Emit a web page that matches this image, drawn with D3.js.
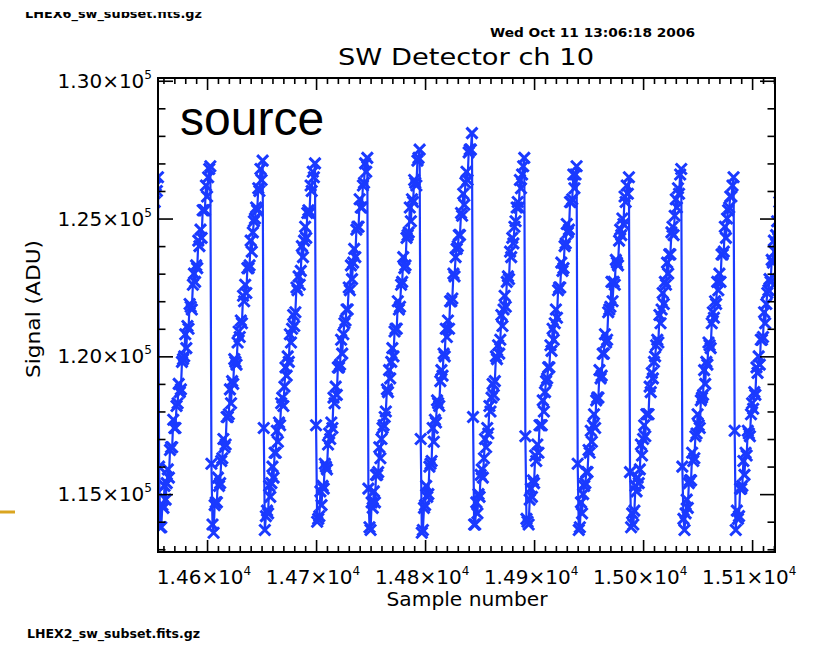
<!DOCTYPE html>
<html>
<head>
<meta charset="utf-8">
<script src="https://cdn.jsdelivr.net/npm/d3@7"></script>
<style>
body { margin: 0; background: #fff; }
svg { display: block; }
.lbl { font-family: "DejaVu Sans", sans-serif; fill: #000; }
.tag { font-family: "DejaVu Sans", sans-serif; font-weight: bold; fill: #000; }
</style>
</head>
<body>
<svg id="chart" width="813" height="645"></svg>
<script>
// signal is in units of 1000 ADU, one sample per entry
// first sample number of each ramp (reset every 48 samples)
var rampStart = [14550, 14556, 14604, 14652, 14700, 14748, 14796, 14844, 14892, 14940, 14988, 15036, 15084];

var ramp00 = [125.3, 125.9, 125.6, 126.2, 126.0, 126.5];
var ramp01 = [116.0, 113.8, 113.8, 114.6, 114.5, 115.3, 114.8, 115.4, 115.9, 115.6, 116.6, 116.7, 116.7, 117.7, 117.4, 117.4, 118.2, 118.3, 119.0, 118.7, 118.8, 119.8, 119.9, 120.0, 120.8, 120.3, 121.1, 121.0, 121.9, 121.8, 121.7, 122.6, 123.0, 122.7, 123.3, 123.2, 124.2, 124.0, 124.6, 124.3, 125.3, 125.3, 125.3, 126.2, 125.8, 126.5, 126.8, 126.9];
var ramp02 = [116.1, 113.9, 113.6, 114.6, 114.7, 114.7, 115.6, 115.3, 115.4, 116.2, 116.3, 117.0, 116.7, 116.8, 117.8, 117.8, 117.9, 118.8, 118.3, 119.1, 119.0, 119.9, 119.8, 119.7, 120.5, 120.9, 120.7, 121.3, 121.2, 122.2, 122.0, 122.6, 122.3, 123.2, 123.2, 123.3, 124.2, 123.8, 124.5, 124.9, 125.0, 125.4, 125.3, 126.1, 126.0, 126.8, 126.4, 127.1];
var ramp03 = [117.4, 113.7, 114.2, 114.4, 114.3, 115.3, 114.9, 115.4, 116.0, 115.6, 116.5, 116.5, 117.3, 116.9, 117.6, 117.5, 118.3, 118.5, 118.2, 118.9, 119.6, 119.3, 120.0, 119.8, 120.8, 120.5, 121.0, 121.5, 121.1, 121.6, 122.5, 122.4, 122.9, 122.6, 123.1, 124.0, 123.6, 124.2, 124.7, 124.3, 125.2, 125.3, 125.2, 126.2, 126.0, 126.7, 126.5, 127.0];
var ramp04 = [117.5, 114.0, 114.1, 114.2, 115.1, 114.6, 115.3, 115.2, 116.1, 116.0, 115.9, 116.8, 117.2, 117.0, 117.6, 117.4, 118.5, 118.3, 118.9, 118.6, 119.6, 119.6, 119.7, 120.6, 120.1, 120.8, 121.2, 121.3, 121.7, 121.7, 122.5, 122.4, 123.3, 122.8, 123.4, 123.9, 123.6, 124.6, 124.7, 124.7, 125.7, 125.4, 125.4, 126.2, 126.3, 127.0, 126.7, 127.2];
var ramp05 = [115.2, 113.8, 113.7, 114.7, 114.5, 115.1, 114.7, 115.7, 115.7, 115.8, 116.7, 116.3, 117.0, 117.4, 117.5, 117.8, 118.0, 118.8, 118.7, 119.5, 119.2, 119.8, 120.3, 120.0, 120.9, 121.0, 121.0, 122.0, 121.7, 121.8, 122.6, 122.7, 123.6, 123.2, 123.3, 124.3, 124.4, 124.5, 125.4, 124.9, 125.7, 125.6, 126.4, 126.3, 126.2, 127.1, 127.2, 127.5];
var ramp06 = [117.0, 113.6, 113.7, 114.5, 114.6, 115.3, 114.9, 115.0, 116.0, 116.1, 116.2, 117.4, 116.9, 117.7, 117.6, 118.4, 118.3, 118.2, 119.1, 119.5, 119.3, 120.1, 120.0, 121.0, 120.7, 121.3, 121.0, 122.0, 122.0, 122.1, 123.0, 122.9, 123.6, 123.9, 124.0, 124.4, 124.4, 125.2, 125.1, 125.9, 125.5, 126.3, 126.7, 126.4, 127.4, 127.5, 127.5, 128.1];
var ramp07 = [117.8, 113.9, 113.9, 114.7, 114.3, 115.0, 114.9, 115.7, 115.9, 115.6, 116.3, 117.0, 116.7, 117.4, 117.2, 118.2, 118.0, 118.5, 119.0, 118.6, 119.1, 120.0, 119.9, 120.4, 120.1, 120.6, 121.5, 121.1, 121.7, 122.2, 121.8, 122.7, 122.9, 122.8, 123.8, 123.6, 124.3, 124.1, 124.7, 124.9, 125.4, 125.6, 125.4, 126.4, 126.1, 126.6, 126.9, 127.2];
var ramp08 = [117.1, 114.1, 114.0, 113.9, 114.8, 115.2, 114.9, 115.5, 115.4, 116.4, 116.2, 116.8, 116.5, 117.5, 117.5, 117.5, 118.4, 118.0, 118.7, 119.1, 119.2, 119.6, 119.6, 120.4, 120.2, 121.0, 120.6, 121.2, 121.7, 121.4, 122.4, 122.5, 122.5, 123.4, 123.1, 123.2, 124.0, 124.1, 124.8, 124.5, 124.6, 125.6, 125.6, 125.7, 126.6, 126.1, 126.6, 126.9];
var ramp09 = [116.1, 113.7, 113.8, 114.7, 114.3, 115.0, 115.3, 115.4, 115.8, 115.8, 116.6, 116.5, 117.3, 116.9, 117.5, 117.9, 117.4, 118.4, 118.5, 118.5, 119.5, 119.2, 119.3, 120.1, 120.1, 120.8, 120.5, 120.6, 121.6, 121.7, 121.8, 122.7, 122.0, 122.7, 122.6, 123.5, 123.4, 123.3, 124.2, 124.6, 124.4, 125.0, 124.8, 125.8, 125.6, 126.2, 125.9, 126.5];
var ramp10 = [115.8, 113.8, 114.3, 113.9, 114.4, 115.3, 115.1, 115.6, 115.4, 115.9, 116.8, 116.4, 117.0, 117.5, 117.1, 117.9, 117.9, 117.9, 118.9, 118.7, 119.4, 119.2, 119.8, 120.0, 120.4, 120.6, 120.5, 121.5, 121.2, 121.7, 122.3, 121.9, 122.7, 122.6, 123.4, 123.0, 123.7, 123.7, 124.5, 124.7, 124.4, 125.1, 125.7, 125.4, 126.1, 125.9, 126.6, 126.8];
var ramp11 = [116.0, 114.1, 113.7, 114.3, 114.8, 114.5, 115.4, 115.5, 115.5, 116.5, 116.2, 116.3, 117.1, 117.2, 117.9, 117.5, 117.4, 118.4, 118.5, 118.6, 119.5, 119.0, 119.8, 119.7, 120.5, 120.4, 120.3, 121.2, 121.6, 121.4, 122.0, 121.9, 122.7, 122.4, 123.0, 122.7, 123.7, 123.7, 123.8, 124.7, 124.3, 125.0, 125.3, 125.4, 125.8, 125.8, 126.2, 126.5];
var ramp12 = [117.3, 113.7, 114.4, 114.1, 114.2, 115.2, 115.2, 115.3, 116.2, 115.7, 116.5, 116.4, 117.3, 117.2, 117.1, 117.9, 118.3, 118.1, 118.7, 118.6, 119.6, 119.4, 120.0, 119.7, 120.6, 120.6, 120.7, 121.6, 121.2, 121.9, 122.3, 122.4, 122.8, 122.7, 123.5, 123.4, 124.2, 123.8, 124.4, 124.9, 124.6, 125.6];

var ramps = [ramp00, ramp01, ramp02, ramp03, ramp04, ramp05, ramp06, ramp07, ramp08, ramp09, ramp10, ramp11, ramp12];

var xMajor = [14600, 14700, 14800, 14900, 15000, 15100];
var xLabels = ["1.46×10", "1.47×10", "1.48×10", "1.49×10", "1.50×10", "1.51×10"];
var xExp = "4";
var yMajor = [115, 120, 125, 130];
var yLabels = ["1.15×10", "1.20×10", "1.25×10", "1.30×10"];
var yExp = "5";

var svg = d3.select("#chart");
var L = 158, R = 775, T = 78, B = 552;
var blue = "#1a3aff";

var x = d3.scaleLinear().domain([14555, 15121]).range([L, R]);
var y = d3.scaleLinear().domain([112.9, 130.1]).range([B, T]);

var xMinor = d3.range(14560, 15121, 10).filter(function (d) { return d % 100 != 0 });
var yMinor = d3.range(113, 131, 1).filter(function (d) { return d % 5 != 0 });

var points = [];
ramps.forEach(function (r, k) {
  r.forEach(function (v, i) { points.push({ s: rampStart[k] + i, v: v }); });
});

svg.append("clipPath").attr("id", "plotclip")
  .append("rect").attr("x", L).attr("y", T).attr("width", R - L).attr("height", B - T);
svg.append("clipPath").attr("id", "topclip")
  .append("rect").attr("x", 0).attr("y", 12).attr("width", 813).attr("height", 20);

var plot = svg.append("g").attr("clip-path", "url(#plotclip)");

plot.append("path")
  .datum(points)
  .attr("fill", "none")
  .attr("stroke", blue)
  .attr("stroke-width", 2.2)
  .attr("d", d3.line().x(function (d) { return x(d.s) }).y(function (d) { return y(d.v) }));

plot.selectAll("path.mark")
  .data(points)
  .enter()
  .append("path")
  .attr("class", "mark")
  .attr("transform", function (d) { return "translate(" + x(d.s) + "," + y(d.v) + ")" })
  .attr("d", "M-5.5,-5.5L5.5,5.5M-5.5,5.5L5.5,-5.5")
  .attr("stroke", blue)
  .attr("stroke-width", 3)
  .attr("fill", "none");

// axes on all four sides, ticks pointing inward
function axisG(axis, tx, ty, vals, size) {
  var g = svg.append("g").attr("transform", "translate(" + tx + "," + ty + ")")
    .call(axis.tickValues(vals).tickSize(size).tickFormat(""));
  g.select(".domain").remove();
  g.selectAll(".tick line").attr("stroke", "#000").attr("stroke-width", 1.6);
}
axisG(d3.axisBottom(x), 0, B, xMajor, -12);
axisG(d3.axisBottom(x), 0, B, xMinor, -6);
axisG(d3.axisTop(x), 0, T, xMajor, -12);
axisG(d3.axisTop(x), 0, T, xMinor, -6);
axisG(d3.axisLeft(y), L, 0, yMajor, -15);
axisG(d3.axisLeft(y), L, 0, yMinor, -7.5);
axisG(d3.axisRight(y), R, 0, yMajor, -15);
axisG(d3.axisRight(y), R, 0, yMinor, -7.5);

svg.append("rect")
  .attr("x", L).attr("y", T).attr("width", R - L).attr("height", B - T)
  .attr("fill", "none").attr("stroke", "#000").attr("stroke-width", 2);

// tick labels
var xt = svg.selectAll("text.xt").data(xMajor).enter().append("text")
  .attr("class", "lbl xt")
  .attr("x", function (d) { return x(d) - 3 })
  .attr("y", 584)
  .attr("text-anchor", "middle")
  .style("font-size", "20px");
xt.append("tspan").text(function (d, i) { return xLabels[i] });
xt.append("tspan").attr("dy", -9).style("font-size", "12px").text(xExp);

var yt = svg.selectAll("text.yt").data(yMajor).enter().append("text")
  .attr("class", "lbl yt")
  .attr("x", 152)
  .attr("y", function (d) { return y(d) + 7 })
  .attr("text-anchor", "end")
  .style("font-size", "20px");
yt.append("tspan").text(function (d, i) { return yLabels[i] });
yt.append("tspan").attr("dy", -9).style("font-size", "12px").text(yExp);

// titles
svg.append("text").attr("class", "lbl")
  .attr("x", 466).attr("y", 65).attr("text-anchor", "middle")
  .attr("textLength", 256).attr("lengthAdjust", "spacingAndGlyphs")
  .style("font-size", "23px").text("SW Detector ch 10");

svg.append("text").attr("class", "lbl")
  .attr("x", 467).attr("y", 606).attr("text-anchor", "middle")
  .attr("textLength", 161).attr("lengthAdjust", "spacingAndGlyphs")
  .style("font-size", "20px").text("Sample number");

svg.append("text").attr("class", "lbl")
  .attr("transform", "translate(40,309) rotate(-90)")
  .attr("text-anchor", "middle")
  .attr("textLength", 138).attr("lengthAdjust", "spacingAndGlyphs")
  .style("font-size", "20px").text("Signal (ADU)");

svg.append("text").attr("class", "tag")
  .attr("x", 490).attr("y", 37)
  .attr("textLength", 205).attr("lengthAdjust", "spacingAndGlyphs")
  .style("font-size", "12px").text("Wed Oct 11 13:06:18 2006");

svg.append("text").attr("class", "tag")
  .attr("clip-path", "url(#topclip)")
  .attr("x", 25).attr("y", 18)
  .attr("textLength", 177).attr("lengthAdjust", "spacingAndGlyphs")
  .style("font-size", "13px").text("LHEX6_sw_subset.fits.gz");

svg.append("text").attr("class", "tag")
  .attr("x", 27).attr("y", 638)
  .attr("textLength", 173).attr("lengthAdjust", "spacingAndGlyphs")
  .style("font-size", "12px").text("LHEX2_sw_subset.fits.gz");

svg.append("text")
  .attr("x", 180).attr("y", 135)
  .style("font-family", "'Liberation Sans', Arial, sans-serif")
  .style("font-size", "48px")
  .style("fill", "#000")
  .text("source");

svg.append("line")
  .attr("x1", 0).attr("x2", 15).attr("y1", 512).attr("y2", 512)
  .attr("stroke", "#daa520").attr("stroke-width", 3);
</script>
</body>
</html>
